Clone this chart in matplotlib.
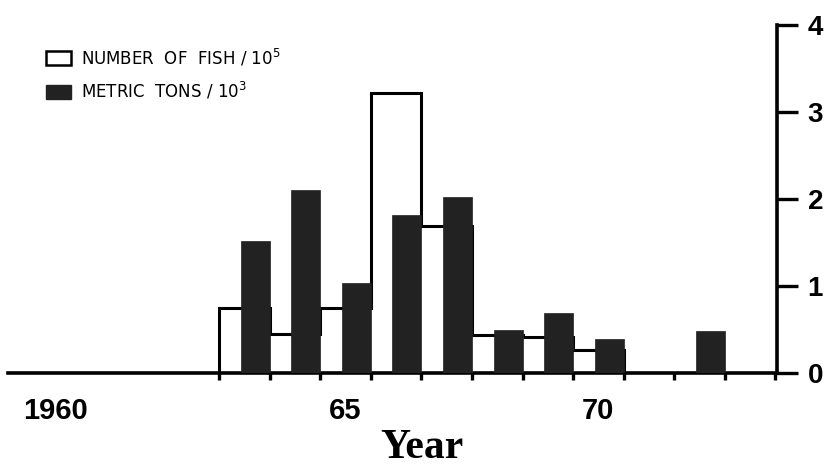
import numpy as np
import matplotlib
matplotlib.use("Agg")
import matplotlib.pyplot as plt
from matplotlib.patches import Patch

# ---- data ----
years = [1963, 1964, 1965, 1966, 1967, 1968, 1969, 1970, 1971, 1972]
fish_per_1e5 = [0.75, 0.45, 0.75, 3.22, 1.69, 0.44, 0.41, 0.26, 0.0, 0.0]
tons_per_1e3 = [1.52, 2.10, 1.03, 1.82, 2.02, 0.50, 0.69, 0.39, 0.0, 0.48]
x_labels = ["1960", "65", "70"]
x_label_pos = [1959.26, 1965, 1970]
y_ticks = [0, 1, 2, 3, 4]
legend_labels = [r"NUMBER  OF  FISH / 10$^5$", r"METRIC  TONS / 10$^3$"]

plt.rcParams['font.family'] = ['Liberation Sans Narrow', 'Liberation Sans', 'DejaVu Sans']

fig = plt.figure(figsize=(8.27, 4.70), dpi=100)
ax = fig.add_axes([8/827, 97/470, 769/827, 348/470])

yrs = np.array(years, dtype=float)
edges = np.append(yrs - 0.5, yrs[-1] + 0.5)

# number of fish: step outline
ax.stairs(fish_per_1e5, edges, baseline=0, fill=False, color='black',
          linewidth=2.2, zorder=2)

# metric tons: dark bars at the right part of each year bin
w = 0.57
ax.bar(yrs + 0.5 - w / 2, tons_per_1e3, width=w, color='#222222',
       edgecolor='#222222', linewidth=0.5, zorder=3)

ax.set_xlim(1958.33, 1973.53)
ax.set_ylim(0, 4)

for s in ['top', 'left']:
    ax.spines[s].set_visible(False)
ax.spines['bottom'].set_linewidth(2.6)
ax.spines['right'].set_linewidth(2.6)

# bottom ticks at year boundaries (unlabelled)
ax.set_xticks(np.append(yrs - 0.5, [yrs[-1] + 0.5, yrs[-1] + 1.5]))
ax.set_xticklabels([])
ax.tick_params(axis='x', which='major', direction='out', length=5, width=2.4)
ax.set_xticks(x_label_pos, minor=True)
ax.set_xticklabels(x_labels, minor=True, fontsize=21, fontweight='bold')
ax.tick_params(axis='x', which='minor', length=0, pad=17)

# right axis
ax.yaxis.tick_right()
ax.set_yticks(y_ticks)
ax.set_yticklabels([str(v) for v in y_ticks], fontsize=20, fontweight='bold')
ax.tick_params(axis='y', direction='out', length=15, width=2.4, pad=7)

fig.text(422/827, 1 - 448/470, "Year", family=['Liberation Serif', 'DejaVu Serif'],
         fontsize=30, fontweight='bold', ha='center', va='center')

handles = [Patch(facecolor='white', edgecolor='black', linewidth=1.8),
           Patch(facecolor='#222222', edgecolor='#222222')]
leg = fig.legend(handles, legend_labels, loc='upper left',
                 bbox_to_anchor=(46/827, 1 - 47/470), frameon=False,
                 prop={'family': ['DejaVu Sans'], 'size': 12},
                 handlelength=1.5, handleheight=0.9, handletextpad=0.6,
                 labelspacing=0.75, borderaxespad=0, borderpad=0)

fig.savefig("out.png", dpi=100, facecolor='white')
